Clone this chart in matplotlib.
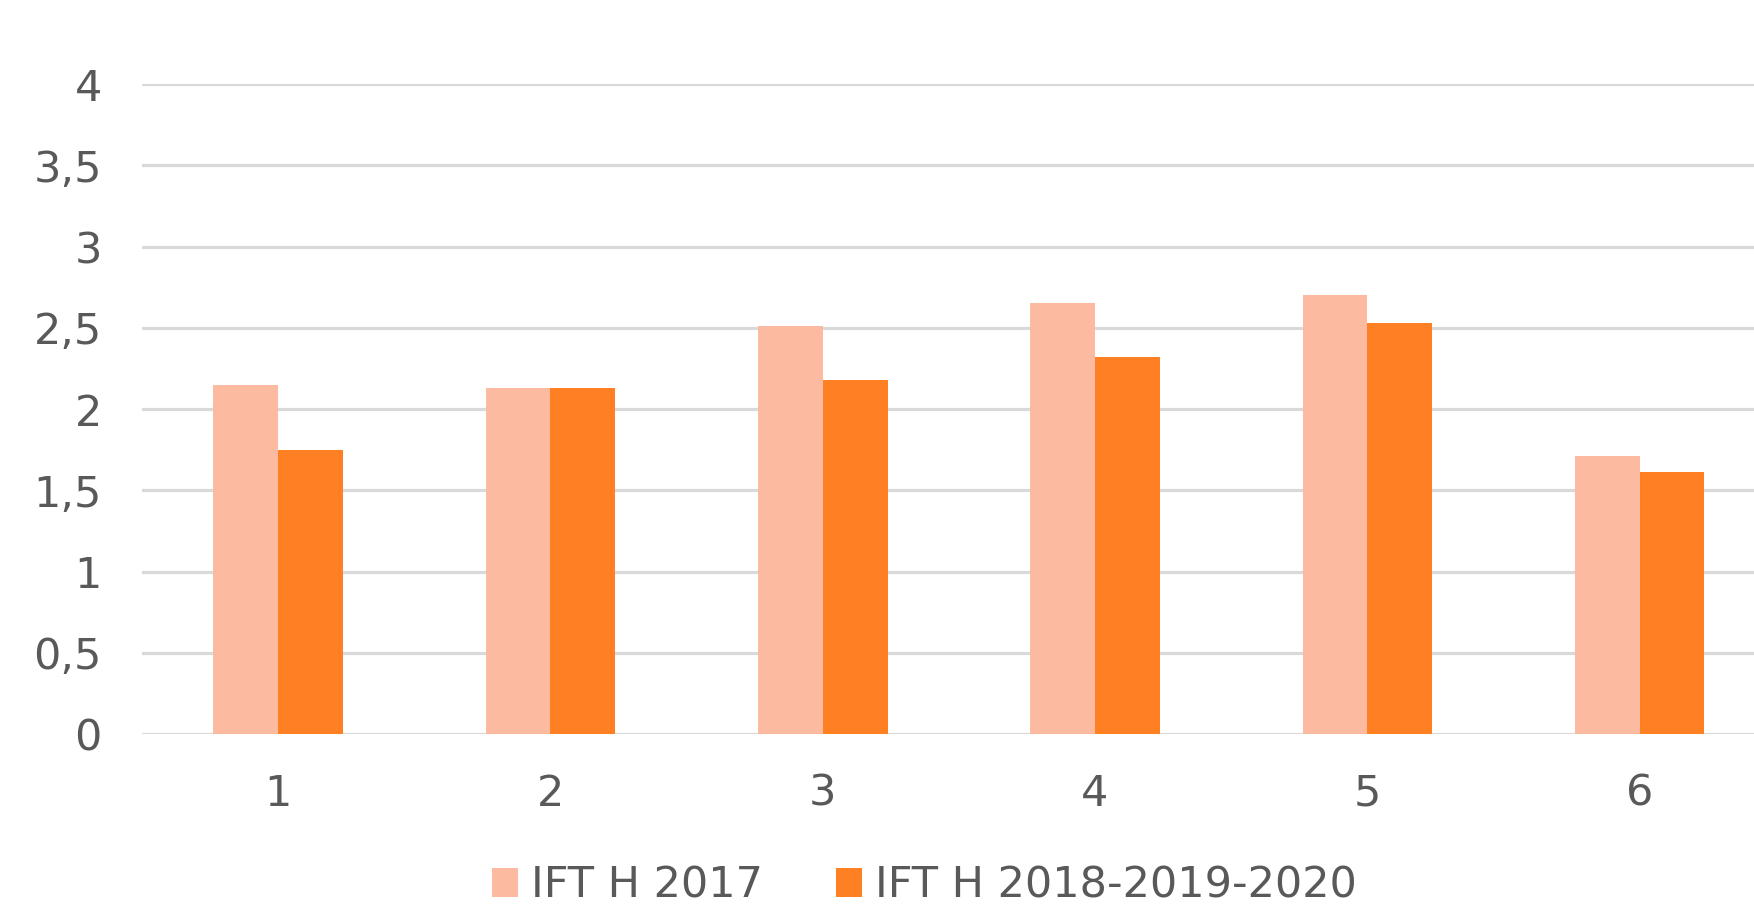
import numpy as np
import matplotlib
matplotlib.use('Agg')
import matplotlib.pyplot as plt
from matplotlib.ticker import FuncFormatter

categories = ['1', '2', '3', '4', '5', '6']
ift_2017 = [2.15, 2.13, 2.51, 2.65, 2.70, 1.71]
ift_2018_2020 = [1.75, 2.13, 2.18, 2.32, 2.53, 1.61]
series_names = ['IFT H 2017', 'IFT H 2018-2019-2020']

TEXT = '#595959'
LIGHT = '#FCBBA1'
DARK = '#FF7F23'

fig = plt.figure(figsize=(17.54, 9.09), dpi=100)
# the plot area runs past the right edge of the picture, as in the reference
ax = fig.add_axes([0.081, 0.1925, 0.9314, 0.715])

x = np.arange(1, len(categories) + 1)
w = 0.238
ax.bar(x - w / 2, ift_2017, w, color=LIGHT, label=series_names[0], zorder=3)
ax.bar(x + w / 2, ift_2018_2020, w, color=DARK, label=series_names[1], zorder=3)

ax.set_xlim(0.5, 6.5)
ax.set_ylim(0, 4)
ax.set_yticks(np.arange(0, 4.01, 0.5))
ax.yaxis.set_major_formatter(FuncFormatter(lambda v, p: ('%g' % v).replace('.', ',')))
ax.set_xticks(x)
ax.set_xticklabels(categories)

ax.grid(axis='y', color='#d9d9d9', linewidth=2.3, zorder=0)
for s in ax.spines.values():
    s.set_visible(False)
ax.tick_params(axis='y', length=0, pad=29, labelsize=31, labelcolor=TEXT)
ax.tick_params(axis='x', length=0, pad=28, labelsize=31, labelcolor=TEXT)

fig.legend(loc='center', bbox_to_anchor=(0.527, 0.026), ncol=2, frameon=False,
           fontsize=31, labelcolor=TEXT, handlelength=0.6, handleheight=0.65,
           handletextpad=0.3, columnspacing=1.7, borderpad=0)

fig.savefig('out.png', dpi=100)
